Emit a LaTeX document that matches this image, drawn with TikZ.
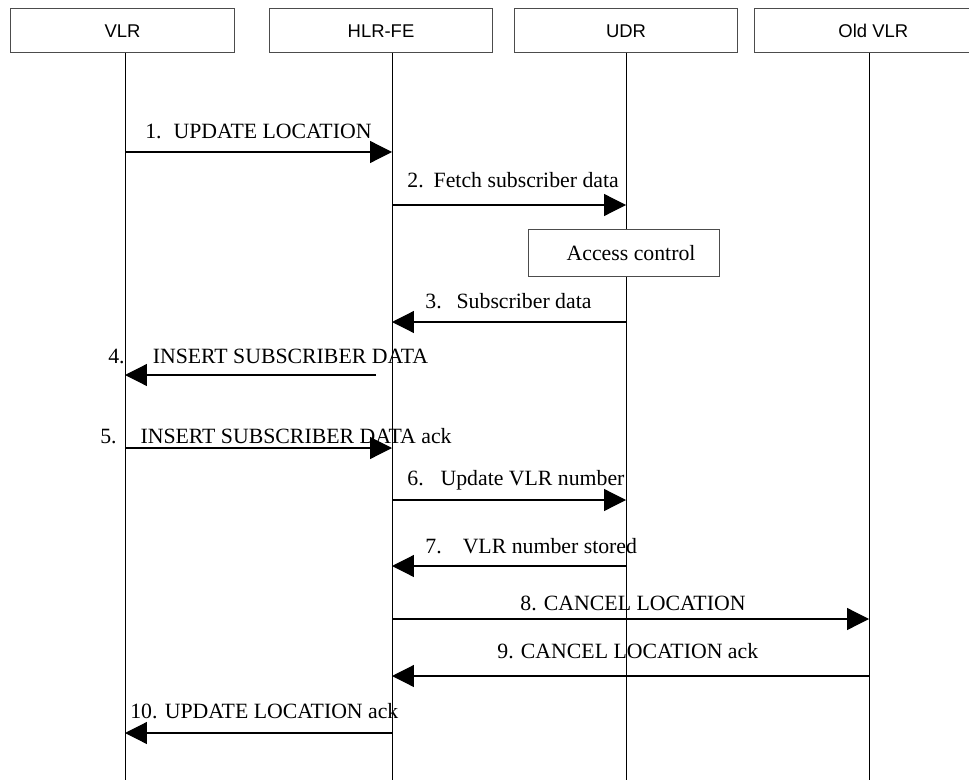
\documentclass[tikz,border=0pt]{standalone}
\usepackage{fontspec}
\setmainfont{Liberation Serif}
\newfontfamily\boxfont{Liberation Sans}
\usetikzlibrary{arrows.meta}

\begin{document}
\begin{tikzpicture}[x=0.02cm, y=-0.02cm,
    ent/.style={draw=black!70, line width=0.5pt, minimum height=25.5pt, inner sep=0pt,
        text height=7.5pt, text depth=0pt, font=\boxfont\fontsize{10.5}{12}\selectfont},
    life/.style={line width=0.5pt},
    msg/.style={line width=0.7pt, -{Triangle[length=12.5pt, width=12.5pt]}},
    lbl/.style={anchor=base west, inner sep=0pt, font=\fontsize{12.4}{14}\selectfont}]
    \clip (0,0) rectangle (969,780);

    % Entities
    \node[ent, minimum width=127.6pt] (vlr) at (122.5,30.5) {VLR};
    \node[ent, minimum width=127pt] (hlr) at (381,30.5) {HLR-FE};
    \node[ent, minimum width=127pt] (udr) at (626,30.5) {UDR};
    \node[ent, minimum width=125.3pt] (old) at (864.5,30.5) {\hspace{10pt}Old VLR};

    % Lifelines
    \foreach \n/\x in {vlr/125, hlr/392, udr/626, old/869} {
        \coordinate (\n T) at (\x,53);
        \coordinate (\n B) at (\x,780);
        \draw[life] (\n T) -- (\n B);
    }

    % Message rows
    \foreach \r/\y in {1/152, 2/205, 3/322, 4/375, 5/448, 6/500, 7/566, 8/619, 9/676, 10/733}
        \coordinate (r\r) at (0,\y);
    \coordinate (s4) at (376,375); % message 4 starts short of the lifeline

    % Access control at the UDR
    \node[ent, fill=white, minimum width=108.9pt, minimum height=27.2pt, text height=8.5pt,
        font=\fontsize{12.4}{14}\selectfont] (acc) at (624,253) {\hspace{8pt}Access control};

    % Messages
    \draw[msg] (vlrT |- r1) -- (hlrT |- r1);
    \draw[msg] (hlrT |- r2) -- (udrT |- r2);
    \draw[msg] (udrT |- r3) -- (hlrT |- r3);
    \draw[msg] (s4) -- (vlrT |- r4);
    \draw[msg] (vlrT |- r5) -- (hlrT |- r5);
    \draw[msg] (hlrT |- r6) -- (udrT |- r6);
    \draw[msg] (udrT |- r7) -- (hlrT |- r7);
    \draw[msg] (hlrT |- r8) -- (oldT |- r8);
    \draw[msg] (oldT |- r9) -- (hlrT |- r9);
    \draw[msg] (hlrT |- r10) -- (vlrT |- r10);

    % Labels
    \node[lbl] (l1) at (145,139) {1.\hspace{6.8pt}UPDATE LOCATION};
    \node[lbl] (l2) at (407,188) {2.\hspace{5.7pt}Fetch subscriber data};
    \node[lbl] (l3) at (425,308) {3.\hspace{8.5pt}Subscriber data};
    \node[lbl] (l4) at (108,363) {4.\hspace{16pt}INSERT SUBSCRIBER DATA};
    \node[lbl] (l5) at (100,443) {5.\hspace{13.6pt}INSERT SUBSCRIBER DATA ack};
    \node[lbl] (l6) at (407,485) {6.\hspace{9.6pt}Update VLR number};
    \node[lbl] (l7) at (425,553) {7.\hspace{12pt}VLR number stored};
    \node[lbl] (l8) at (520,610) {8. CANCEL LOCATION};
    \node[lbl] (l9) at (497,658) {9. CANCEL LOCATION ack};
    \node[lbl] (l10) at (130,718) {10. UPDATE LOCATION ack};
\end{tikzpicture}
\end{document}
